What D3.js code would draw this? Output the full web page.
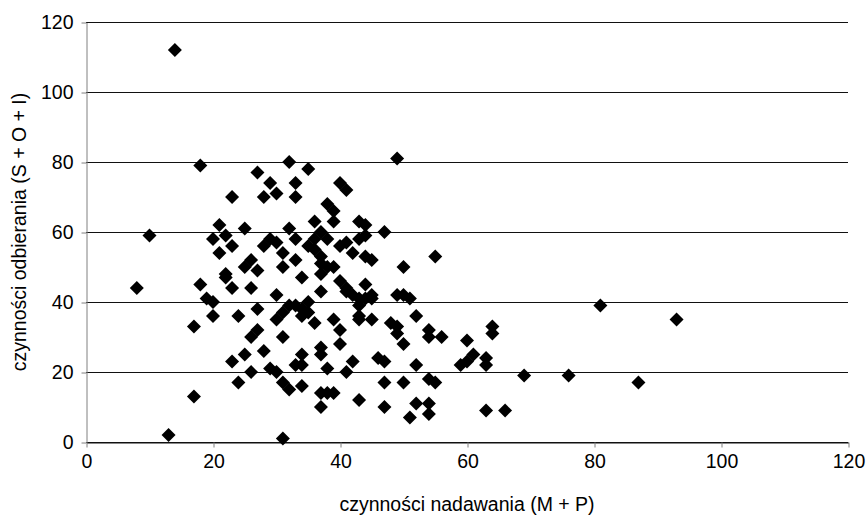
<!DOCTYPE html>
<html>
<head>
<meta charset="utf-8">
<script src="https://cdn.jsdelivr.net/npm/d3@7"></script>
<style>
  body { margin: 0; background: #fff; }
  text { font-family: "Liberation Sans", Arial, sans-serif; }
</style>
</head>
<body>
<svg id="chart" width="867" height="515"></svg>
<script>
// Data
const nadawanie = [8,10,13,14,17,17,18,18,19,20,20,20,21,21,22,22,22,23,23,23,23,24,24,25,25,25,26,26,26,26,27,27,27,27,28,28,28,29,29,29,30,30,30,30,30,31,31,31,31,31,31,32,32,32,32,33,33,33,33,33,33,34,34,34,34,34,34,35,35,35,35,36,36,36,36,37,37,37,37,37,37,37,37,37,38,38,38,38,38,39,39,39,39,39,40,40,40,40,40,41,41,41,41,41,42,42,42,43,43,43,43,43,43,43,44,44,44,44,44,45,45,45,45,46,47,47,47,47,48,49,49,49,49,50,50,50,50,51,51,52,52,52,54,54,54,54,54,55,55,56,59,60,60,61,63,63,63,64,64,66,69,76,81,87,93];
const odbieranie = [44,59,2,112,13,33,79,45,41,40,36,58,62,54,59,48,47,70,56,44,23,36,17,61,50,25,52,44,30,20,77,49,38,32,70,56,26,74,58,21,71,57,42,35,20,54,50,37,30,17,1,80,61,39,15,74,70,58,52,39,22,47,38,36,25,22,16,78,56,40,37,63,58,55,34,60,53,51,48,43,27,25,14,10,68,58,50,21,14,66,63,50,35,14,74,56,46,32,28,72,57,44,43,20,54,42,23,63,58,41,39,36,35,12,62,59,53,45,41,52,42,41,35,24,60,23,17,10,34,81,42,33,31,50,42,28,17,41,7,36,22,11,32,30,18,11,8,53,17,30,22,29,23,25,24,22,9,33,31,9,19,19,39,17,35];
const xTicks = [0,20,40,60,80,100,120];
const yTicks = [0,20,40,60,80,100,120];
const xTitle = "czynności nadawania (M + P)";
const yTitle = "czynności odbierania (S + O + I)";

(function () {
  const n = Math.min(nadawanie.length, odbieranie.length);
  const points = d3.range(n).map(i => ({x: nadawanie[i], y: odbieranie[i]}));

  const svg = d3.select("#chart");
  const pl = 86, pr = 848, pt = 22, pb = 442;
  const x = d3.scaleLinear().domain([0, 120]).range([pl, pr]);
  const y = d3.scaleLinear().domain([0, 120]).range([pb, pt]);
  const fs = 19.5;

  // gridlines
  svg.append("g").selectAll("line").data(yTicks).join("line")
    .attr("x1", pl).attr("x2", pr)
    .attr("y1", d => Math.round(y(d)) + 0.5).attr("y2", d => Math.round(y(d)) + 0.5)
    .attr("stroke", "#111").attr("stroke-width", 1);

  // y axis
  const yAxis = svg.append("g").attr("transform", `translate(${pl + 0.5},0.5)`)
    .call(d3.axisLeft(y).tickValues(yTicks).tickSize(5).tickSizeOuter(0).tickPadding(8));
  yAxis.select(".domain").attr("stroke", "#808080");
  yAxis.selectAll(".tick line").attr("stroke", "#808080");
  yAxis.selectAll("text").attr("font-size", fs).attr("fill", "#000")
    .attr("font-family", "Liberation Sans, Arial, sans-serif");

  // x axis
  const xAxis = svg.append("g").attr("transform", `translate(0.5,${pb + 0.5})`)
    .call(d3.axisBottom(x).tickValues(xTicks).tickSize(5).tickSizeOuter(0).tickPadding(7));
  xAxis.select(".domain").attr("stroke", "#111");
  xAxis.selectAll(".tick line").attr("stroke", "#808080");
  xAxis.selectAll("text").attr("font-size", fs).attr("fill", "#000")
    .attr("font-family", "Liberation Sans, Arial, sans-serif");

  // points
  const r = 7;
  svg.append("g").selectAll("path").data(points).join("path")
    .attr("d", `M0,${-r}L${r},0L0,${r}L${-r},0Z`)
    .attr("transform", d => `translate(${x(d.x)},${y(d.y)})`)
    .attr("fill", "#000");

  // titles
  svg.append("text").attr("x", (pl + pr) / 2).attr("y", 511)
    .attr("text-anchor", "middle").attr("font-size", 19.5).text(xTitle);
  svg.append("text").attr("transform", `translate(26,${(pt + pb) / 2}) rotate(-90)`)
    .attr("text-anchor", "middle").attr("font-size", 19.5).text(yTitle);
})();
</script>
</body>
</html>
